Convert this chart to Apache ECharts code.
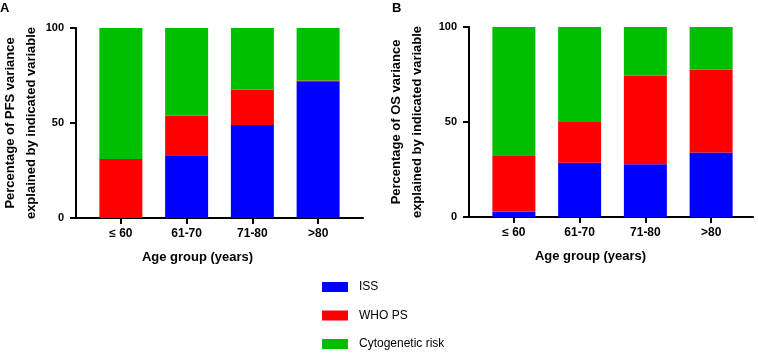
<!DOCTYPE html>
<html>
<head>
<meta charset="utf-8">
<script src="https://cdn.jsdelivr.net/npm/echarts@6/dist/echarts.min.js"></script>
<style>
  html, body { margin: 0; padding: 0; background: #fff; }
  #chart { width: 758px; height: 357px; }
</style>
</head>
<body>
<div id="chart"></div>
<script>
// age groups on the x axis
var ageGroups = ['\u2264 60', '61-70', '71-80', '>80'];
var yTicks = [0, 50, 100];

// panel A: PFS variance
var pfsISS = [0, 33, 49, 72];
var pfsWHO = [31, 21, 18.5, 0.4];
var pfsCyto = [69, 46, 32.5, 27.6];

// panel B: OS variance
var osISS = [2.8, 28.6, 27.7, 34];
var osWHO = [29.7, 21.4, 46.7, 43.5];
var osCyto = [67.5, 50, 25.6, 22.5];

var seriesNames = ['ISS', 'WHO PS', 'Cytogenetic risk'];
var colors = ['#0000ff', '#ff0000', '#00bf00'];

var font = 'Arial, "Liberation Sans", sans-serif';

let makeX = function(idx){
    return {
        type: 'category', gridIndex: idx, data: ageGroups, boundaryGap: true,
        name: 'Age group (years)', nameLocation: 'middle', nameGap: 33,
        nameTextStyle: {fontFamily: font, fontSize: 13, fontWeight: 'bold', color: '#000', padding: [0, 44, 0, 0]},
        axisLine: {show: false},
        axisTick: {show: true, alignWithLabel: true, length: 6, lineStyle: {color: '#000', width: 2}},
        axisLabel: {margin: 10, fontFamily: font, fontSize: 12, fontWeight: 'bold', color: '#000'},
        splitLine: {show: false}
    };
};

// plain line under each panel, wider than the bar area
let makeBaseX = function(idx){
    return {
        type: 'value', gridIndex: idx, min: 0, max: 1,
        axisLine: {show: true, onZero: false, lineStyle: {color: '#000', width: 2}},
        axisTick: {show: false}, axisLabel: {show: false}, splitLine: {show: false}
    };
};
let makeBaseY = function(idx){
    return {type: 'value', gridIndex: idx, show: false, min: 0, max: 1};
};

let makeY = function(idx, title, gap, off){
    return {
        type: 'value', gridIndex: idx, min: 0, max: 100, interval: 50, offset: off,
        name: title, nameLocation: 'middle', nameGap: gap, nameRotate: 90,
        nameTextStyle: {fontFamily: font, fontSize: 13, fontWeight: 'bold', color: '#000', lineHeight: 21},
        axisLine: {show: true, lineStyle: {color: '#000', width: 2}},
        axisTick: {show: true, length: 6, lineStyle: {color: '#000', width: 2}},
        axisLabel: {margin: 12, fontFamily: font, fontSize: 11, fontWeight: 'bold', color: '#000'},
        splitLine: {show: false}
    };
};

let makeSeries = function(idx, stack, lists){
    return lists.map(function(vals, k){
        return {
            name: seriesNames[k], type: 'bar', stack: stack,
            xAxisIndex: idx, yAxisIndex: idx,
            barWidth: 43,
            itemStyle: {color: colors[k]},
            data: vals
        };
    });
};

var chart = echarts.init(document.getElementById('chart'));
var option = {
    animation: false,
    backgroundColor: '#fff',
    title: [
        {text: 'A', left: -5, top: -3, textStyle: {fontFamily: font, fontSize: 13, fontWeight: 'bold', color: '#000'}},
        {text: 'B', left: 387, top: -3, textStyle: {fontFamily: font, fontSize: 13, fontWeight: 'bold', color: '#000'}}
    ],
    legend: {
        orient: 'vertical', left: 317, top: 276, height: 100,
        itemWidth: 26, itemHeight: 10, itemGap: 16.5,
        icon: 'rect',
        data: seriesNames,
        textStyle: {fontFamily: font, fontSize: 12, color: '#000', padding: [0, 0, 0, 6]}
    },
    grid: [
        {left: 88, right: 407, top: 28, bottom: 139, outerBoundsMode: 'none'},
        {left: 481, right: 14, top: 27, bottom: 140, outerBoundsMode: 'none'},
        {left: 76, right: 395, top: 28, bottom: 139, outerBoundsMode: 'none'},
        {left: 469, right: 5, top: 27, bottom: 140, outerBoundsMode: 'none'}
    ],
    xAxis: [makeX(0), makeX(1), makeBaseX(2), makeBaseX(3)],
    yAxis: [
        makeY(0, 'Percentage of PFS variance\nexplained by indicated variable', 34, 12),
        makeY(1, 'Percentage of OS variance\nexplained by indicated variable', 41, 12),
        makeBaseY(2), makeBaseY(3)
    ],
    series: makeSeries(0, 'a', [pfsISS, pfsWHO, pfsCyto])
        .concat(makeSeries(1, 'b', [osISS, osWHO, osCyto]))
};
chart.setOption(option);
</script>
</body>
</html>
